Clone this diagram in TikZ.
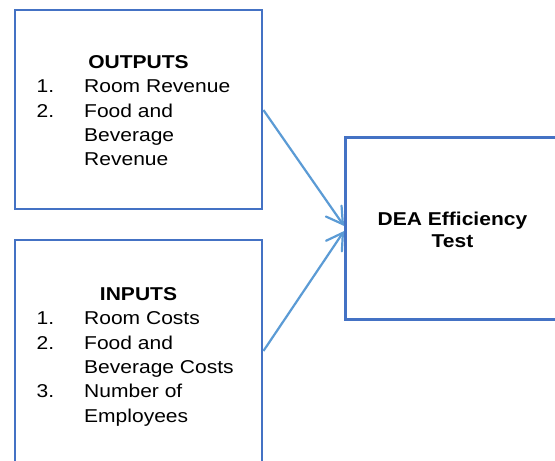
\documentclass[tikz,border=0pt]{standalone}
\usepackage{fontspec}
\setmainfont[FakeStretch=1.13]{Liberation Sans}
\usetikzlibrary{arrows.meta}
\definecolor{boxblue}{HTML}{4472C4}
\definecolor{arrblue}{HTML}{5B9BD5}
\begin{document}
\begin{tikzpicture}[x=1pt,y=-1pt,
  box/.style={draw=boxblue,line width=2.8pt,fill=white,inner sep=0pt},
  conn/.style={draw=arrblue,line width=2.2pt,-{Straight Barb[length=16pt,width=19pt,line cap=round]}},
  txt/.style={anchor=base west,inner sep=0pt,font=\fontsize{18.6}{24.4}\selectfont},
  ttl/.style={anchor=base,inner sep=0pt,font=\fontsize{18.6}{24.4}\selectfont\bfseries}]
\useasboundingbox (0,0) rectangle (555,461);
\fill[white] (0,0) rectangle (555,461);
% boxes
\node[box,minimum width=247pt,minimum height=199pt] (outbox) at (138.5,109.5) {};
\node[box,minimum width=247pt,minimum height=260pt] (inbox) at (138.5,370) {};
\node[box,minimum width=214pt,minimum height=182.5pt] (dea) at (452.5,228.5) {};
% outputs text
\node[ttl] (outt) at (138.5,68) {OUTPUTS};
\node[txt] (o1n) at (36.5,92.5) {1.};
\node[txt] (o1) at (84,92.5) {Room Revenue};
\node[txt] (o2n) at (36.5,117) {2.};
\node[txt] (o2a) at (84,117) {Food and};
\node[txt] (o2b) at (84,141.4) {Beverage};
\node[txt] (o2c) at (84,165.8) {Revenue};
% inputs text
\node[ttl] (int) at (138.5,300) {INPUTS};
\node[txt] (i1n) at (36.5,324.7) {1.};
\node[txt] (i1) at (84,324.7) {Room Costs};
\node[txt] (i2n) at (36.5,349.1) {2.};
\node[txt] (i2a) at (84,349.1) {Food and};
\node[txt] (i2b) at (84,373.5) {Beverage Costs};
\node[txt] (i3n) at (36.5,397.9) {3.};
\node[txt] (i3a) at (84,397.9) {Number of};
\node[txt] (i3b) at (84,422.3) {Employees};
% DEA text
\node[ttl] (dea1) at (452.5,225) {DEA Efficiency};
\node[ttl] (dea2) at (452.5,247.7) {Test};
% connectors
\coordinate (s1) at (outbox.east |- 0,110);
\coordinate (s2) at (inbox.east |- 0,351);
\coordinate (e1) at (dea.west |- 0,226);
\coordinate (e2) at (dea.west |- 0,231);
\draw[conn] (s1) -- (e1);
\draw[conn] (s2) -- (e2);
\end{tikzpicture}
\end{document}
